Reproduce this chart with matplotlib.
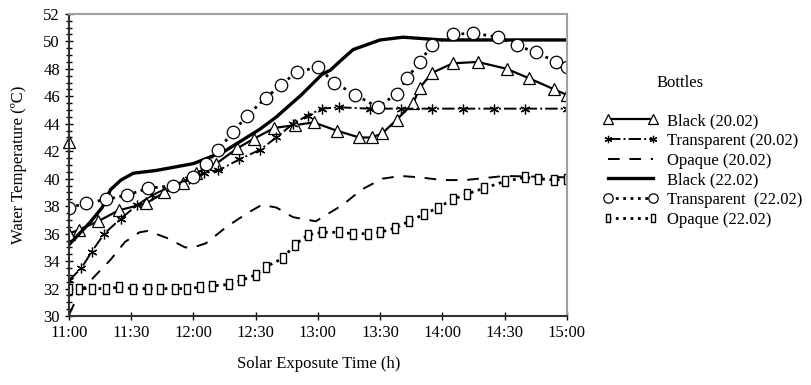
import matplotlib
matplotlib.use("Agg")
import matplotlib.pyplot as plt
from matplotlib.ticker import MultipleLocator

plt.rcParams['font.family'] = ['Liberation Serif', 'DejaVu Serif']

# time in minutes after 11:00
tick_minutes = [0, 30, 60, 90, 120, 150, 180, 210, 240]
tick_labels = ["11:00", "11:30", "12:00", "12:30", "13:00", "13:30", "14:00", "14:30", "15:00"]

black_2002_t = [0, 5, 14, 24, 37, 46, 55, 61, 71, 81, 89, 99, 109, 118, 129, 140, 146, 151, 158, 166, 169, 175, 185, 197, 211, 222, 234, 240]
black_2002_v = [36.0, 36.3, 36.9, 37.7, 38.2, 39.0, 39.7, 40.4, 41.1, 42.2, 42.9, 43.7, 43.9, 44.1, 43.5, 43.0, 43.0, 43.3, 44.3, 45.5, 46.6, 47.7, 48.4, 48.5, 48.0, 47.3, 46.5, 46.1]
black_2002_stray_t = [0]
black_2002_stray_v = [42.7]

transp_2002_t = [0, 6, 11, 17, 25, 33, 40, 50, 58, 65, 72, 82, 92, 100, 108, 115, 122, 130, 145, 160, 175, 190, 205, 220, 240]
transp_2002_v = [32.6, 33.5, 34.7, 36.0, 37.1, 38.1, 38.8, 39.5, 40.0, 40.4, 40.6, 41.4, 42.1, 43.0, 44.0, 44.6, 45.1, 45.2, 45.1, 45.1, 45.1, 45.1, 45.1, 45.1, 45.1]

opaque_2002_t = [0, 5, 13, 20, 27, 34, 38, 47, 56, 60, 66, 76, 86, 93, 100, 108, 119, 132, 141, 151, 160, 169, 180, 191, 210, 240]
opaque_2002_v = [30.1, 31.7, 33.0, 34.1, 35.4, 36.1, 36.2, 35.7, 35.0, 35.0, 35.3, 36.5, 37.5, 38.1, 37.9, 37.2, 36.9, 38.1, 39.2, 40.0, 40.2, 40.1, 39.9, 39.9, 40.2, 40.1]

black_2202_t = [0, 10, 16, 20, 25, 31, 42, 60, 75, 92, 100, 112, 122, 126, 131, 137, 150, 161, 180, 240]
black_2202_v = [35.2, 36.8, 37.9, 39.2, 39.9, 40.4, 40.6, 41.1, 42.0, 43.6, 44.5, 46.1, 47.6, 47.9, 48.6, 49.4, 50.1, 50.3, 50.1, 50.1]

transp_2202_t = [0, 8, 18, 28, 38, 50, 60, 66, 72, 79, 86, 95, 102, 110, 120, 128, 138, 149, 158, 163, 169, 175, 185, 195, 207, 216, 225, 235, 240]
transp_2202_v = [37.9, 38.2, 38.5, 38.8, 39.3, 39.5, 40.1, 41.1, 42.1, 43.4, 44.6, 45.9, 46.8, 47.8, 48.1, 47.0, 46.1, 45.2, 46.2, 47.3, 48.5, 49.7, 50.5, 50.6, 50.3, 49.7, 49.2, 48.5, 48.1]

opaque_2202_t = [0, 5, 11, 18, 24, 31, 38, 44, 51, 57, 63, 69, 77, 83, 90, 95, 103, 109, 115, 122, 130, 137, 144, 150, 157, 164, 171, 178, 185, 192, 200, 210, 220, 226, 234, 240]
opaque_2202_v = [32.0, 32.0, 32.0, 32.0, 32.1, 32.0, 32.0, 32.0, 32.0, 32.0, 32.1, 32.2, 32.3, 32.6, 33.0, 33.6, 34.2, 35.2, 35.9, 36.1, 36.1, 36.0, 36.0, 36.1, 36.4, 36.9, 37.4, 37.9, 38.5, 38.9, 39.3, 39.8, 40.1, 40.0, 39.9, 40.0]

fig = plt.figure(figsize=(8.12, 3.85), dpi=100)
ax = fig.add_axes([0.085, 0.179, 0.613, 0.785])

mk = dict(markerfacecolor='white', markeredgecolor='black', markeredgewidth=0.9)
rect = [(-0.55, -1), (0.55, -1), (0.55, 1), (-0.55, 1), (-0.55, -1)]

ax.plot(black_2002_t, black_2002_v, '-', color='black', lw=1.6, marker='^', markersize=9, label='Black (20.02)', **mk)
ax.plot(black_2002_stray_t, black_2002_stray_v, linestyle='none', marker='^', markersize=9, clip_on=False, **mk)
ax.plot(transp_2002_t, transp_2002_v, '-.', color='black', lw=1.4, marker=(6, 2, 0), markersize=7,
        markeredgewidth=0.9, markeredgecolor='black', label='Transparent (20.02)')
ax.plot(opaque_2002_t, opaque_2002_v, color='black', lw=1.4, dashes=(6, 5), label='Opaque (20.02)')
ax.plot(black_2202_t, black_2202_v, '-', color='black', lw=2.4, label='Black (22.02)')
ax.plot(transp_2202_t, transp_2202_v, ':', color='black', lw=2.0, marker='o', markersize=9, label='Transparent  (22.02)', **mk)
ax.plot(opaque_2202_t, opaque_2202_v, ':', color='black', lw=2.0, marker=rect, markersize=7, label='Opaque (22.02)',
        markerfacecolor='white', markeredgecolor='black', markeredgewidth=1.0)

ax.set_xlim(0, 240)
ax.set_ylim(30, 52)
ax.set_xticks(tick_minutes)
ax.set_xticklabels(tick_labels)
ax.yaxis.set_major_locator(MultipleLocator(2))
ax.yaxis.set_minor_locator(MultipleLocator(0.5))
ax.tick_params(axis='both', which='major', direction='inout', length=6, width=1, labelsize=12, colors='black')
ax.tick_params(axis='y', which='minor', direction='inout', length=5, width=1)
for s in ['top', 'right']:
    ax.spines[s].set_color('#a0a0a0')
    ax.spines[s].set_linewidth(1.5)
for s in ['left', 'bottom']:
    ax.spines[s].set_color('#333333')
    ax.spines[s].set_linewidth(1.5)

ax.set_ylabel('Water Temperature (ºC)', fontsize=12, labelpad=12)
fig.text(0.392, 0.055, 'Solar Exposute Time (h)', ha='center', va='center', fontsize=12)

leg = ax.legend(loc='upper left', bbox_to_anchor=(1.060, 0.693), frameon=False,
                fontsize=12, handlelength=3.3, numpoints=2, handletextpad=0.5,
                labelspacing=0.22, borderaxespad=0.0, markerscale=0.75)
fig.text(680 / 812, 1 - 83 / 385, 'Bottles', ha='center', va='center', fontsize=12)

fig.savefig('out.png', dpi=100)
